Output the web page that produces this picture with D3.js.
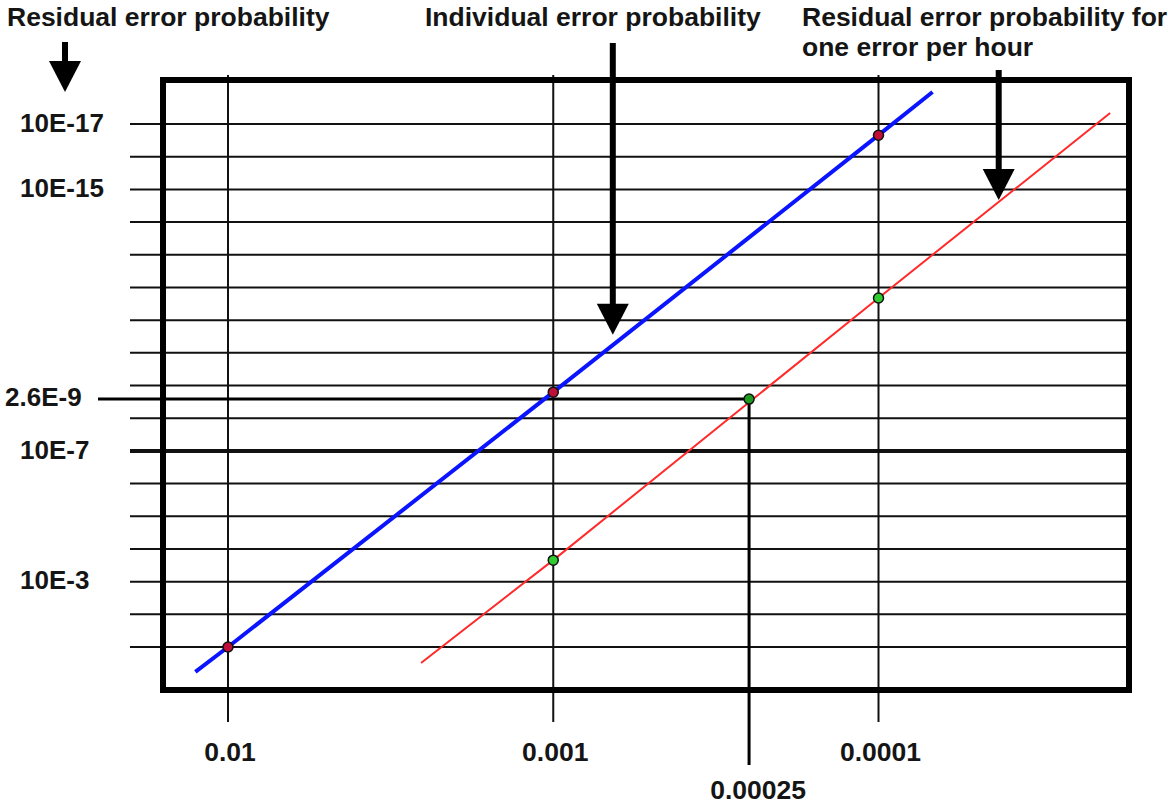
<!DOCTYPE html>
<html>
<head>
<meta charset="utf-8">
<script src="https://cdn.jsdelivr.net/npm/d3@7"></script>
<style>
  body { margin: 0; background: #fff; }
  text { font-family: "Liberation Sans", Arial, sans-serif; font-weight: bold; fill: #151515; }
</style>
</head>
<body>
<div id="vis"></div>
<script>
// frame constants
const FRAME_WIDTH = 1168;
const FRAME_HEIGHT = 805;
const BOX = {left: 163, right: 1129, top: 80, bottom: 690};
const TITLE_SIZE = 26.5;
const LABEL_SIZE = 26;

// horizontal grid, one line per decade of residual error probability
const Y_GRID = [1e-17, 1e-16, 1e-15, 1e-14, 1e-13, 1e-12, 1e-11, 1e-10, 1e-9,
                1e-8, 1e-7, 1e-6, 1e-5, 1e-4, 1e-3, 1e-2, 1e-1];
const Y_LABEL_VALUES = [1e-17, 1e-15, 1e-7, 1e-3];
const Y_LABEL_TEXT = ["10E-17", "10E-15", "10E-7", "10E-3"];
const Y_BOLD = 1e-7;

// vertical grid, individual error probability
const X_TICK_VALUES = [0.01, 0.001, 0.0001];
const X_TICK_TEXT = ["0.01", "0.001", "0.0001"];

// the read-off point
const MARK_X = 0.00025;
const MARK_Y = 2.6e-9;
const MARK_X_TEXT = "0.00025";
const MARK_Y_TEXT = "2.6E-9";

// blue line: residual error probability
const BLUE_X = [0.0126, 0.01, 0.001, 0.0001, 0.0000682];
const BLUE_Y = [0.58, 0.1, 1.6e-9, 2.2e-17, 1.05e-18];
const BLUE_POINTS = [1, 2, 3];

// red line: residual error probability for one error per hour
const RED_X = [0.00255, 0.001, 0.0001, 0.0000194];
const RED_Y = [0.31, 2.2e-4, 2.1e-12, 4.6e-18];
const RED_POINTS = [1, 2];

// arrows pointing at the lines
const ARROW_X = [0.000656, 0.0000427];
const ARROW_TIP_Y = [2.8e-11, 2.1e-15];
const ARROW_TOP = [43, 70];

const SVG = d3.select("#vis")
  .append("svg")
  .attr("width", FRAME_WIDTH)
  .attr("height", FRAME_HEIGHT);

// log scales (x runs from larger to smaller probability)
const X_SCALE = d3.scaleLog()
  .domain([0.01, 0.0001])
  .range([228, 878.5]);
const Y_SCALE = d3.scaleLog()
  .domain([1e-17, 1e-1])
  .range([124, 647]);

// horizontal grid lines
SVG.selectAll(".hgrid")
  .data(Y_GRID)
  .enter()
  .append("line")
  .attr("x1", 130)
  .attr("x2", BOX.right)
  .attr("y1", (d) => Y_SCALE(d))
  .attr("y2", (d) => Y_SCALE(d))
  .attr("stroke", "#111")
  .attr("stroke-width", (d) => d === Y_BOLD ? 4 : 2);

// vertical grid lines
SVG.selectAll(".vgrid")
  .data(X_TICK_VALUES)
  .enter()
  .append("line")
  .attr("x1", (d) => X_SCALE(d))
  .attr("x2", (d) => X_SCALE(d))
  .attr("y1", 75)
  .attr("y2", 722)
  .attr("stroke", "#111")
  .attr("stroke-width", 2);

// frame
SVG.append("rect")
  .attr("x", BOX.left)
  .attr("y", BOX.top)
  .attr("width", BOX.right - BOX.left)
  .attr("height", BOX.bottom - BOX.top)
  .attr("fill", "none")
  .attr("stroke", "#000")
  .attr("stroke-width", 6);

// read-off lines for 0.00025 -> 2.6E-9
SVG.append("line")
  .attr("x1", 98)
  .attr("x2", X_SCALE(MARK_X))
  .attr("y1", Y_SCALE(MARK_Y))
  .attr("y2", Y_SCALE(MARK_Y))
  .attr("stroke", "#000")
  .attr("stroke-width", 3);
SVG.append("line")
  .attr("x1", X_SCALE(MARK_X))
  .attr("x2", X_SCALE(MARK_X))
  .attr("y1", Y_SCALE(MARK_Y))
  .attr("y2", 765)
  .attr("stroke", "#000")
  .attr("stroke-width", 3);

const LINE = d3.line()
  .x((d) => X_SCALE(d[0]))
  .y((d) => Y_SCALE(d[1]));

// blue and red lines
SVG.append("path")
  .datum(d3.zip(BLUE_X, BLUE_Y))
  .attr("d", LINE)
  .attr("fill", "none")
  .attr("stroke", "#0a14ff")
  .attr("stroke-width", 4);
SVG.append("path")
  .datum(d3.zip(RED_X, RED_Y))
  .attr("d", LINE)
  .attr("fill", "none")
  .attr("stroke", "#ff2a2a")
  .attr("stroke-width", 2);

// points on the lines
SVG.selectAll(".bluept")
  .data(BLUE_POINTS)
  .enter()
  .append("circle")
  .attr("cx", (i) => X_SCALE(BLUE_X[i]))
  .attr("cy", (i) => Y_SCALE(BLUE_Y[i]))
  .attr("r", 5)
  .attr("fill", "#c0103a")
  .attr("stroke", "#111")
  .attr("stroke-width", 1.5);
SVG.selectAll(".redpt")
  .data(RED_POINTS)
  .enter()
  .append("circle")
  .attr("cx", (i) => X_SCALE(RED_X[i]))
  .attr("cy", (i) => Y_SCALE(RED_Y[i]))
  .attr("r", 5)
  .attr("fill", "#2ecc2e")
  .attr("stroke", "#111")
  .attr("stroke-width", 1.5);
SVG.append("circle")
  .attr("cx", X_SCALE(MARK_X))
  .attr("cy", Y_SCALE(MARK_Y))
  .attr("r", 5)
  .attr("fill", "#1e9a1e")
  .attr("stroke", "#111")
  .attr("stroke-width", 1.5);

// arrow helper: shaft plus triangle head ending at the tip
function arrow(x, top, tip) {
  SVG.append("line")
    .attr("x1", x).attr("x2", x)
    .attr("y1", top).attr("y2", tip - 28)
    .attr("stroke", "#000")
    .attr("stroke-width", 6);
  SVG.append("path")
    .attr("d", "M" + (x - 16) + "," + (tip - 31) + "L" + (x + 16) + "," + (tip - 31) + "L" + x + "," + tip + "Z")
    .attr("fill", "#000");
}
arrow(65, 42, 92);
ARROW_X.forEach((d, i) => arrow(X_SCALE(d), ARROW_TOP[i], Y_SCALE(ARROW_TIP_Y[i])));

// y labels
SVG.selectAll(".ylab")
  .data(Y_LABEL_VALUES)
  .enter()
  .append("text")
  .attr("x", 20)
  .attr("y", (d) => Y_SCALE(d))
  .attr("dy", "0.3em")
  .attr("font-size", LABEL_SIZE)
  .text((d, i) => Y_LABEL_TEXT[i]);
SVG.append("text")
  .attr("x", 5)
  .attr("y", Y_SCALE(MARK_Y))
  .attr("dy", "0.25em")
  .attr("font-size", LABEL_SIZE)
  .text(MARK_Y_TEXT);

// x labels
SVG.selectAll(".xlab")
  .data(X_TICK_VALUES)
  .enter()
  .append("text")
  .attr("x", (d) => X_SCALE(d) + 2)
  .attr("y", 761)
  .attr("text-anchor", "middle")
  .attr("font-size", TITLE_SIZE)
  .text((d, i) => X_TICK_TEXT[i]);
SVG.append("text")
  .attr("x", X_SCALE(MARK_X) + 9)
  .attr("y", 799)
  .attr("text-anchor", "middle")
  .attr("font-size", TITLE_SIZE)
  .text(MARK_X_TEXT);

// titles
SVG.append("text").attr("x", 7).attr("y", 26).attr("font-size", TITLE_SIZE)
  .text("Residual error probability");
SVG.append("text").attr("x", 425).attr("y", 26).attr("font-size", TITLE_SIZE)
  .text("Individual error probability");
SVG.append("text").attr("x", 802).attr("y", 26).attr("font-size", TITLE_SIZE)
  .text("Residual error probability for");
SVG.append("text").attr("x", 802).attr("y", 56).attr("font-size", TITLE_SIZE)
  .text("one error per hour");
</script>
</body>
</html>
